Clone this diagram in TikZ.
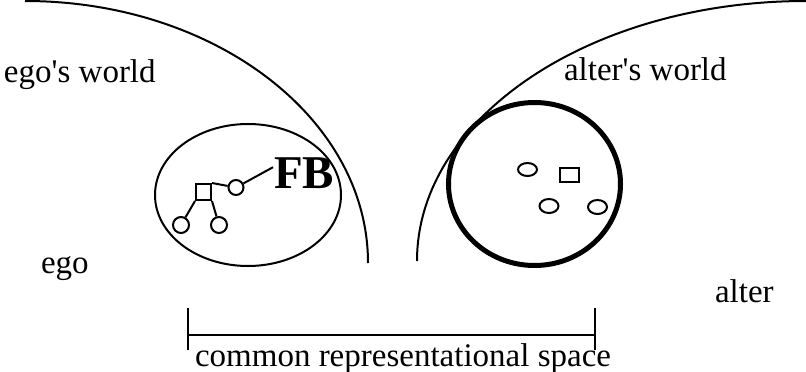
\documentclass[tikz,border=0pt]{standalone}
\usepackage{fontspec}
\setmainfont{Liberation Serif}
\usetikzlibrary{positioning,shapes.geometric}
\tikzset{
  world/.style={line width=2pt},
  kin/.style={circle,draw,line width=2pt,minimum size=15pt,inner sep=0pt},
  kinm/.style={rectangle,draw,line width=2pt,minimum width=15pt,minimum height=16pt,inner sep=0pt},
  alt/.style={ellipse,draw,line width=2pt,minimum width=19pt,minimum height=13pt,inner sep=0pt},
  lbl/.style={font=\fontsize{33}{38}\selectfont,inner sep=0pt,anchor=base west},
}

\begin{document}
\begin{tikzpicture}[x=1pt,y=1pt,line width=2pt]
  \useasboundingbox (0,0) rectangle (806,-372);
  % the two worlds
  \draw[world] (25,-1) arc[start angle=90,end angle=0,x radius=343,y radius=262];
  \draw[world] (417,-261) arc[start angle=180,end angle=90,x radius=389,y radius=260];
  \node[lbl] (egow) at (3,-82) {ego\textquotesingle s world};
  \node[lbl] (altw) at (563,-80) {alter\textquotesingle s world};
  \node[lbl] (ego) at (40,-273) {ego};
  \node[lbl] (alter) at (714,-302) {alter};
  % ego's kin
  \node[ellipse,draw,line width=2pt,minimum width=186pt,minimum height=142pt,inner sep=0pt] (egoset) at (248,-195) {};
  \node[kinm] (sq) at (203.5,-192) {};
  \node[kin] (fa) at (236,-187.5) {};
  \node[kin,minimum size=16pt] (c1) at (181,-225) {};
  \node[kin,minimum size=16pt] (c2) at (219,-225) {};
  \node[font=\fontsize{47}{50}\selectfont\bfseries,inner sep=0pt,anchor=base west] (fb) at (273,-188) {FB};
  \draw (sq.north east) -- (fa);
  \draw (fa) -- (fb.170);
  \draw (sq.south west) -- (c1);
  \draw (sq.south east) -- (c2);
  % alter's kin
  \node[ellipse,draw,line width=5pt,minimum width=172pt,minimum height=163pt,inner sep=0pt] (alterset) at (534.5,-184) {};
  \node[alt] (a1) at (527.5,-169.5) {};
  \node[rectangle,draw,line width=2pt,minimum width=19pt,minimum height=14pt,inner sep=0pt] (a2) at (569.5,-175) {};
  \node[alt,minimum height=14pt] (a3) at (549,-206) {};
  \node[alt,minimum height=14pt] (a4) at (597.5,-207) {};
  % common space
  \coordinate (csl) at (188,-335);
  \coordinate (csr) at (595,-335);
  \draw[world] (csl) -- (csr);
  \draw[world] ([yshift=27pt]csl) -- ([yshift=-15pt]csl);
  \draw[world] ([yshift=27pt]csr) -- ([yshift=-15pt]csr);
  \node[lbl] (cs) at (194,-366) {common representational space};
\end{tikzpicture}
\end{document}
